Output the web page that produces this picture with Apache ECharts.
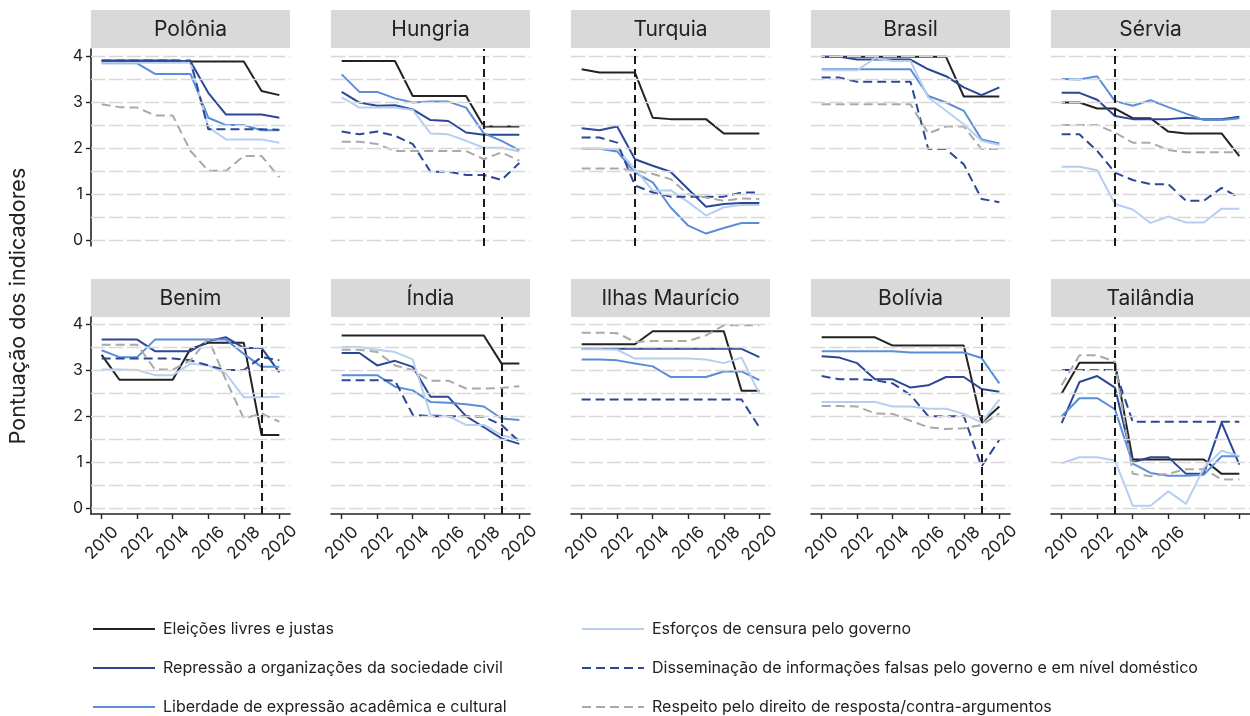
<!DOCTYPE html>
<html>
<head>
<meta charset="utf-8">
<script src="https://cdn.jsdelivr.net/npm/echarts@6/dist/echarts.min.js"></script>
<style>
html,body{margin:0;padding:0;background:#fff;}
#chart{width:1250px;height:716px;}
</style>
</head>
<body>
<div id="chart"></div>
<script>
// ---------- DATA ----------
const years = [2010,2011,2012,2013,2014,2015,2016,2017,2018,2019,2020];
const seriesNames = [
  'Eleições livres e justas',
  'Repressão a organizações da sociedade civil',
  'Liberdade de expressão acadêmica e cultural',
  'Esforços de censura pelo governo',
  'Disseminação de informações falsas pelo governo e em nível doméstico',
  'Respeito pelo direito de resposta/contra-argumentos'
];
const countries = ['Polônia','Hungria','Turquia','Brasil','Sérvia','Benim','Índia','Ilhas Maurício','Bolívia','Tailândia'];
const eventYears = [null, 2018, 2013, null, 2013, 2019, 2019, null, 2019, 2013];
const yTickValues = [0,1,2,3,4];
const yGridLevels = [0,0.5,1,1.5,2,2.5,3,3.5,4];
const xTickYears = [2010,2012,2014,2016,2018,2020];
const xLabelYearsTailandia = [2010,2012,2014,2016];

// each country: rows in order of seriesNames, values 2010..2020
const polonia = [
  [3.88,3.88,3.88,3.88,3.88,3.88,3.88,3.88,3.88,3.24,3.15],
  [3.90,3.90,3.90,3.90,3.90,3.88,3.20,2.73,2.73,2.73,2.66],
  [3.84,3.84,3.84,3.61,3.61,3.61,2.66,2.50,2.50,2.39,2.39],
  [3.85,3.85,3.85,3.85,3.85,3.85,2.45,2.19,2.19,2.19,2.12],
  [3.90,3.90,3.90,3.90,3.90,3.90,2.41,2.41,2.41,2.41,2.40],
  [2.95,2.89,2.88,2.71,2.71,1.94,1.51,1.51,1.83,1.83,1.37]
];
const hungria = [
  [3.89,3.89,3.89,3.89,3.13,3.13,3.13,3.13,2.47,2.47,2.47],
  [3.22,2.99,2.92,2.93,2.84,2.61,2.59,2.34,2.29,2.29,2.29],
  [3.60,3.22,3.22,3.08,2.99,3.01,3.01,2.88,2.32,2.16,1.96],
  [3.10,2.88,2.88,2.88,2.83,2.32,2.30,2.16,2.01,2.01,1.93],
  [2.36,2.30,2.36,2.27,2.09,1.49,1.49,1.42,1.42,1.31,1.68],
  [2.14,2.14,2.09,1.94,1.94,1.94,1.94,1.94,1.76,1.91,1.73]
];
const turquia = [
  [3.71,3.64,3.64,3.64,2.66,2.63,2.63,2.63,2.32,2.32,2.32],
  [2.43,2.39,2.47,1.76,1.62,1.49,1.11,0.73,0.79,0.81,0.81],
  [1.99,1.99,1.93,1.47,1.26,0.72,0.32,0.15,0.27,0.38,0.38],
  [1.99,1.99,1.98,1.55,1.08,1.09,0.83,0.54,0.72,0.77,0.77],
  [2.23,2.23,2.12,1.19,1.04,0.95,0.95,0.95,0.95,1.04,1.04],
  [1.56,1.56,1.56,1.52,1.44,1.33,1.00,0.93,0.86,0.91,0.90]
];
const brasil = [
  [3.98,3.98,3.98,3.98,3.98,3.98,3.98,3.98,3.12,3.12,3.12],
  [3.98,3.98,3.92,3.92,3.92,3.92,3.71,3.56,3.32,3.15,3.32],
  [3.71,3.71,3.71,3.71,3.71,3.71,3.13,2.99,2.81,2.19,2.10],
  [3.69,3.69,3.69,3.95,3.89,3.89,3.10,2.81,2.52,2.16,2.07],
  [3.53,3.53,3.44,3.44,3.44,3.44,1.98,1.98,1.65,0.90,0.83],
  [2.95,2.95,2.95,2.95,2.95,2.95,2.32,2.47,2.47,1.98,1.98]
];
const servia = [
  [2.99,2.99,2.86,2.86,2.65,2.65,2.36,2.32,2.32,2.32,1.83],
  [3.20,3.20,3.05,2.70,2.63,2.63,2.63,2.66,2.63,2.63,2.68],
  [3.50,3.49,3.56,3.02,2.92,3.04,2.89,2.75,2.61,2.61,2.65],
  [1.60,1.60,1.52,0.79,0.67,0.38,0.52,0.39,0.39,0.69,0.69],
  [2.30,2.30,1.94,1.47,1.31,1.22,1.22,0.86,0.86,1.14,0.93],
  [2.50,2.50,2.50,2.34,2.12,2.12,1.96,1.91,1.91,1.91,1.91]
];
const benim = [
  [3.33,2.79,2.79,2.79,2.79,3.46,3.59,3.59,3.59,1.59,1.59],
  [3.66,3.66,3.66,3.41,3.41,3.41,3.63,3.71,3.48,3.48,2.95],
  [3.43,3.28,3.28,3.66,3.66,3.66,3.66,3.66,3.35,3.07,3.07],
  [3.01,3.01,3.00,2.89,2.89,3.14,3.10,2.92,2.41,2.41,2.42],
  [3.25,3.25,3.25,3.25,3.25,3.21,3.10,3.00,3.00,3.28,3.21],
  [3.55,3.55,3.55,3.01,3.01,3.21,3.68,2.78,1.95,2.06,1.88]
];
const india = [
  [3.75,3.75,3.75,3.75,3.75,3.75,3.75,3.75,3.75,3.14,3.14],
  [3.37,3.37,3.10,3.20,3.07,2.42,2.42,2.00,1.76,1.52,1.40],
  [2.89,2.89,2.89,2.64,2.56,2.31,2.29,2.26,2.21,1.95,1.92],
  [3.50,3.50,3.44,3.39,3.23,2.03,2.00,1.81,1.81,1.59,1.49],
  [2.78,2.78,2.78,2.77,2.03,2.00,2.00,2.00,1.99,1.81,1.45],
  [3.44,3.44,3.39,3.10,3.00,2.77,2.77,2.60,2.60,2.61,2.65]
];
const ilhasMauricio = [
  [3.56,3.56,3.56,3.56,3.84,3.84,3.84,3.84,3.84,2.55,2.55],
  [3.46,3.46,3.46,3.46,3.46,3.46,3.46,3.46,3.46,3.46,3.28],
  [3.23,3.23,3.21,3.14,3.08,2.85,2.85,2.85,2.97,2.97,2.78],
  [3.45,3.45,3.44,3.25,3.25,3.25,3.25,3.23,3.15,3.27,2.49],
  [2.36,2.36,2.36,2.36,2.36,2.36,2.36,2.36,2.36,2.36,1.76],
  [3.81,3.81,3.80,3.61,3.63,3.63,3.63,3.75,3.97,3.97,3.97]
];
const bolivia = [
  [3.71,3.71,3.71,3.71,3.53,3.53,3.53,3.53,3.53,1.86,2.21],
  [3.30,3.27,3.15,2.80,2.80,2.62,2.67,2.85,2.85,2.59,2.53],
  [3.41,3.41,3.41,3.41,3.41,3.38,3.38,3.38,3.38,3.26,2.71],
  [2.31,2.31,2.31,2.31,2.21,2.21,2.16,2.16,2.05,1.86,2.36],
  [2.87,2.80,2.80,2.78,2.71,2.46,2.00,2.00,2.00,0.91,1.49],
  [2.22,2.22,2.21,2.06,2.05,1.90,1.76,1.72,1.74,1.81,2.06]
];
const tailandia = [
  [2.49,3.16,3.16,3.16,1.06,1.06,1.06,1.06,1.06,0.75,0.75],
  [1.85,2.74,2.87,2.62,1.00,1.11,1.11,0.75,0.75,1.86,0.95],
  [2.00,2.39,2.39,2.15,0.97,0.77,0.71,0.71,0.73,1.13,1.13],
  [0.98,1.11,1.11,1.04,0.06,0.06,0.37,0.10,0.88,1.25,1.14],
  [3.00,3.00,3.00,3.00,1.88,1.88,1.88,1.88,1.88,1.88,1.88],
  [2.67,3.32,3.32,3.18,0.75,0.70,0.75,0.85,0.85,0.63,0.63]
];
const countryData = [polonia,hungria,turquia,brasil,servia,benim,india,ilhasMauricio,bolivia,tailandia];

// ---------- STYLE / LAYOUT ----------
const FONT = 'Inter, "Noto Sans", sans-serif';
const TXT = '#222222';
const lineStyles = [
  {color:'#222222', type:'solid'},
  {color:'#2b4796', type:'solid'},
  {color:'#5b8ed8', type:'solid'},
  {color:'#b6cef0', type:'solid'},
  {color:'#2b4796', type:[9,5]},
  {color:'#a9a9a9', type:[9,5]}
];
const PANEL_LEFT = 91, PANEL_STEP = 240, PANEL_W = 199, PANEL_H = 197;
const ROW_TOP = [49, 317];
const HEADER_TOP = [10, 279], HEADER_H = 38;
const Y_MIN = -0.12, Y_MAX = 4.15, X_MIN = 2009.4, X_MAX = 2020.6;
const LEGEND_LEFT = [92, 581];
const LEGEND_TOP = [621, 660, 699];

const grids = [], xAxes = [], yAxes = [], series = [], graphics = [];

countries.forEach((name, i) => {
  const col = i % 5, row = Math.floor(i / 5);
  const left = PANEL_LEFT + PANEL_STEP * col;
  grids.push({left: left, top: ROW_TOP[row], width: PANEL_W, height: PANEL_H, containLabel:false});
  xAxes.push({
    gridIndex: i, type: 'value', min: X_MIN, max: X_MAX,
    show: row === 1,
    axisLine: {show: true, onZero: false, lineStyle: {color: TXT, width: 1.6}},
    axisTick: {show: true, customValues: xTickYears, length: 5, lineStyle: {color: TXT, width: 1.4}},
    axisLabel: {
      show: true,
      customValues: i === 9 ? xLabelYearsTailandia : xTickYears,
      rotate: 45, margin: 29, align: 'center', verticalAlign: 'middle',
      fontSize: 17, color: TXT, fontFamily: FONT,
      formatter: v => String(v)
    },
    splitLine: {show: false}
  });
  yAxes.push({
    gridIndex: i, type: 'value', min: Y_MIN, max: Y_MAX,
    show: col === 0,
    axisLine: {show: true, onZero: false, lineStyle: {color: TXT, width: 1.6}},
    axisTick: {show: true, customValues: yTickValues, length: 5, lineStyle: {color: TXT, width: 1.4}},
    axisLabel: {show: true, customValues: yTickValues, margin: 8, fontSize: 16, color: TXT, fontFamily: FONT},
    splitLine: {show: false}
  });
  // horizontal dashed grid lines
  series.push({
    type: 'line', name: '_grid' + i, xAxisIndex: i, yAxisIndex: i, data: [], z: 1, silent: true,
    markLine: {
      silent: true, symbol: ['none','none'], label: {show: false},
      lineStyle: {color: '#d8d8d8', width: 1.4, type: [14,4]},
      emphasis: {disabled: true},
      data: yGridLevels.map(v => ({yAxis: v}))
    }
  });
  // data lines
  countryData[i].forEach((vals, s) => {
    series.push({
      type: 'line', name: seriesNames[s], xAxisIndex: i, yAxisIndex: i,
      data: years.map((y, k) => [y, vals[k]]),
      symbol: 'none', z: 2,
      lineStyle: {color: lineStyles[s].color, width: 2, type: lineStyles[s].type},
      itemStyle: {color: lineStyles[s].color},
      emphasis: {disabled: true}
    });
  });
  // event vertical line
  if (eventYears[i] !== null) {
    series.push({
      type: 'line', name: '_event' + i, xAxisIndex: i, yAxisIndex: i, data: [], z: 3, silent: true,
      markLine: {
        silent: true, symbol: ['none','none'], label: {show: false},
        lineStyle: {color: '#1a1a1a', width: 2, type: [8,5]},
        emphasis: {disabled: true},
        data: [{xAxis: eventYears[i]}]
      }
    });
  }
  // header strip
  graphics.push({
    type: 'rect', silent: true,
    shape: {x: left, y: HEADER_TOP[row], width: PANEL_W, height: HEADER_H},
    style: {fill: '#d9d9d9'}
  });
  graphics.push({
    type: 'text', silent: true, x: left + PANEL_W / 2, y: HEADER_TOP[row] + HEADER_H / 2 + 1,
    style: {text: name, align: 'center', verticalAlign: 'middle', font: '21px ' + FONT, fill: TXT}
  });
});

graphics.push({
  type: 'text', silent: true, x: 19, y: 306, rotation: Math.PI / 2,
  style: {text: 'Pontuação dos indicadores', align: 'center', verticalAlign: 'middle', font: '21.5px ' + FONT, fill: TXT}
});

// one legend per entry (2 columns x 3 rows)
const legends = seriesNames.map((n, s) => ({
  left: LEGEND_LEFT[Math.floor(s / 3)],
  top: LEGEND_TOP[s % 3],
  padding: 0,
  orient: 'horizontal',
  data: [n],
  itemWidth: 62, itemHeight: 18,
  selectedMode: false,
  itemStyle: {opacity: 0, borderWidth: 0},
  textStyle: {fontSize: 16, color: TXT, fontFamily: FONT, padding: [0,0,0,3]}
}));

const option = {
  animation: false,
  backgroundColor: '#ffffff',
  textStyle: {fontFamily: FONT},
  grid: grids,
  xAxis: xAxes,
  yAxis: yAxes,
  legend: legends,
  graphic: graphics,
  series: series
};

const chart = echarts.init(document.getElementById('chart'), null, {renderer: 'canvas'});
chart.setOption(option);
</script>
</body>
</html>
